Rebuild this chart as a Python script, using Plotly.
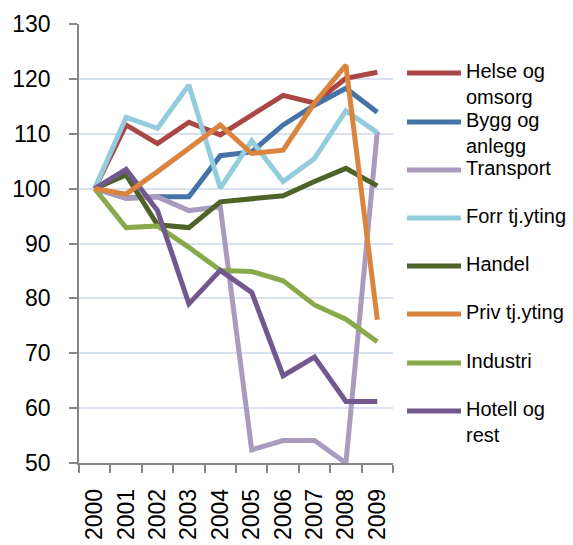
import plotly.graph_objects as go

years = ["2000", "2001", "2002", "2003", "2004", "2005", "2006", "2007", "2008", "2009"]

helse = [100, 111.6, 108.2, 112.1, 109.8, 113.4, 117.0, 115.6, 120.1, 121.2]
bygg = [100, 98.3, 98.5, 98.5, 106.0, 106.7, 111.6, 115.2, 118.3, 113.9]
transport = [100, 98.2, 98.5, 96.0, 96.7, 52.4, 54.1, 54.1, 50.0, 110.4]
forr = [100, 113.0, 111.0, 118.9, 100.1, 108.7, 101.3, 105.5, 114.2, 110.2]
handel = [100, 102.5, 93.4, 92.9, 97.6, 98.2, 98.7, 101.3, 103.7, 100.5]
priv = [100, 99.0, 103.1, 107.4, 111.6, 106.4, 107.0, 115.6, 122.5, 76.1]
industri = [100, 92.9, 93.2, 89.3, 85.1, 84.9, 83.2, 78.8, 76.2, 72.1]
hotell = [100, 103.5, 96.0, 79.0, 85.1, 81.1, 65.9, 69.3, 61.2, 61.2]

series_names = ["Helse og<br>omsorg", "Bygg og<br>anlegg", "Transport", "Forr tj.yting",
                "Handel", "Priv tj.yting", "Industri", "Hotell og<br>rest"]
series_values = [helse, bygg, transport, forr, handel, priv, industri, hotell]
colors = ["#AA4643", "#4572A7", "#A99BBD", "#93CDDD", "#4F6228", "#DB843D", "#8AA94A", "#71588F"]

# drawing order (back to front) roughly as in the reference
draw_order = [0, 1, 2, 3, 4, 6, 7, 5]

W, H = 573, 545
L, R, T, B = 79, 393, 24, 463

fig = go.Figure()
for i in draw_order:
    fig.add_trace(go.Scatter(
        x=years, y=series_values[i], mode="lines",
        name=series_names[i].replace("<br>", " "),
        line=dict(color=colors[i], width=5),
        showlegend=False,
    ))

def px_x(px):
    return (px - L) / (R - L)

def px_y(py):
    return (B - py) / (B - T)

legend_y = [73, 122, 170, 218, 266, 314, 363, 411]
shapes = []
annotations = []
for i, name in enumerate(series_names):
    yy = px_y(legend_y[i])
    shapes.append(dict(type="line", xref="paper", yref="paper",
                       x0=px_x(407), x1=px_x(461), y0=yy, y1=yy,
                       line=dict(color=colors[i], width=5)))
    annotations.append(dict(xref="paper", yref="paper", x=px_x(465), y=yy,
                            xanchor="left", yanchor="top", yshift=14,
                            text=name, showarrow=False, align="left",
                            font=dict(size=20, color="black", family="Liberation Sans, Arial"),
                            borderpad=0))

fig.update_layout(
    width=W, height=H,
    margin=dict(l=L, r=W - R, t=T, b=H - B, autoexpand=False),
    paper_bgcolor="white", plot_bgcolor="white",
    font=dict(family="Liberation Sans, Arial", color="black"),
    shapes=shapes, annotations=annotations,
    xaxis=dict(type="category", range=[-0.5, 9.5], tickson="boundaries",
               ticks="outside", ticklen=8, tickcolor="#868686", tickwidth=1.5,
               showline=True, linecolor="#868686", linewidth=1.5,
               showgrid=False, tickangle=-90, tickfont=dict(size=23),
               ticklabelstandoff=15, automargin=False),
    yaxis=dict(range=[50, 130], dtick=10, tick0=50,
               ticks="outside", ticklen=8, tickcolor="#868686", tickwidth=1.5,
               showline=True, linecolor="#868686", linewidth=1.5,
               showgrid=True, gridcolor="#D9E2F0", gridwidth=1.5,
               zeroline=False, tickfont=dict(size=23), ticklabelstandoff=14,
               automargin=False),
)

fig.write_html("out.html", config={"displayModeBar": False},
               post_script="document.body.style.margin='0';document.body.style.overflow='hidden';")
